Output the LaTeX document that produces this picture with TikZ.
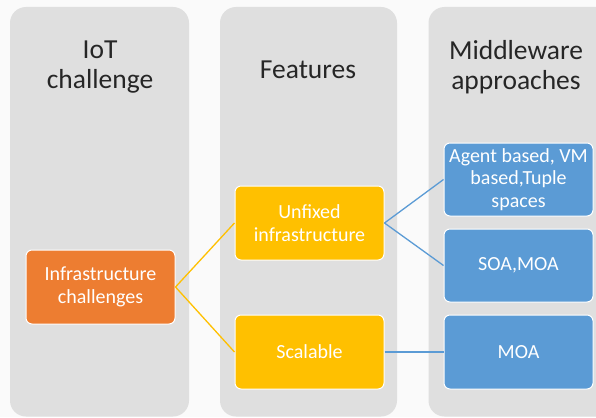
\documentclass[tikz,border=0pt]{standalone}
\usepackage{fontspec}
\setmainfont{Carlito}
\definecolor{pagebg}{HTML}{FAFAFA}
\definecolor{colgray}{HTML}{DFDFDF}
\definecolor{challenge}{HTML}{ED7D31}
\definecolor{feature}{HTML}{FFC000}
\definecolor{approach}{HTML}{5B9BD5}
\begin{document}
\begin{tikzpicture}[x=1pt,y=-1pt,
  column/.style={fill=colgray,rounded corners=16pt},
  heading/.style={align=center,font=\fontsize{27.5}{30}\selectfont,text=black!85},
  card/.style={draw=white,line width=1pt,rounded corners=6pt,minimum width=149pt,minimum height=74pt,align=center,text=white,font=\fontsize{20}{22.5}\selectfont,inner sep=1pt},
  link/.style={line width=1.3pt}]
  \useasboundingbox[fill=pagebg] (0,0) rectangle (596,417);
  % background columns
  \fill[column] (10,7) rectangle (189,416.5);
  \fill[column] (220,7) rectangle (397,416.5);
  \fill[column] (428.5,7) rectangle (620,416.5);
  % column headings
  \node[heading] (h1) at (100,67) {IoT\\challenge};
  \node[heading] (h2) at (308,70) {Features};
  \node[heading] (h3) at (516,67) {Middleware\\approaches};
  % cards
  \node[card,fill=challenge] (infra) at (100.5,287) {Infrastructure\\challenges};
  \node[card,fill=feature] (unfixed) at (309.5,223) {Unfixed\\infrastructure};
  \node[card,fill=feature] (scal) at (309.5,352) {Scalable};
  \node[card,fill=approach,minimum height=73pt] (agent) at (518.5,179.5) {Agent based, VM\\based,Tuple\\spaces};
  \node[card,fill=approach,minimum height=73pt] (soa) at (518.5,265.5) {SOA,MOA};
  \node[card,fill=approach] (moa) at (518.5,352) {MOA};
  % connectors
  \draw[link,draw=feature] (infra.east) -- (unfixed.west);
  \draw[link,draw=feature] (infra.east) -- (scal.west);
  \draw[link,draw=approach] (unfixed.east) -- (agent.west);
  \draw[link,draw=approach] (unfixed.east) -- (soa.west);
  \draw[link,draw=approach] (scal.east) -- (moa.west);
\end{tikzpicture}
\end{document}
